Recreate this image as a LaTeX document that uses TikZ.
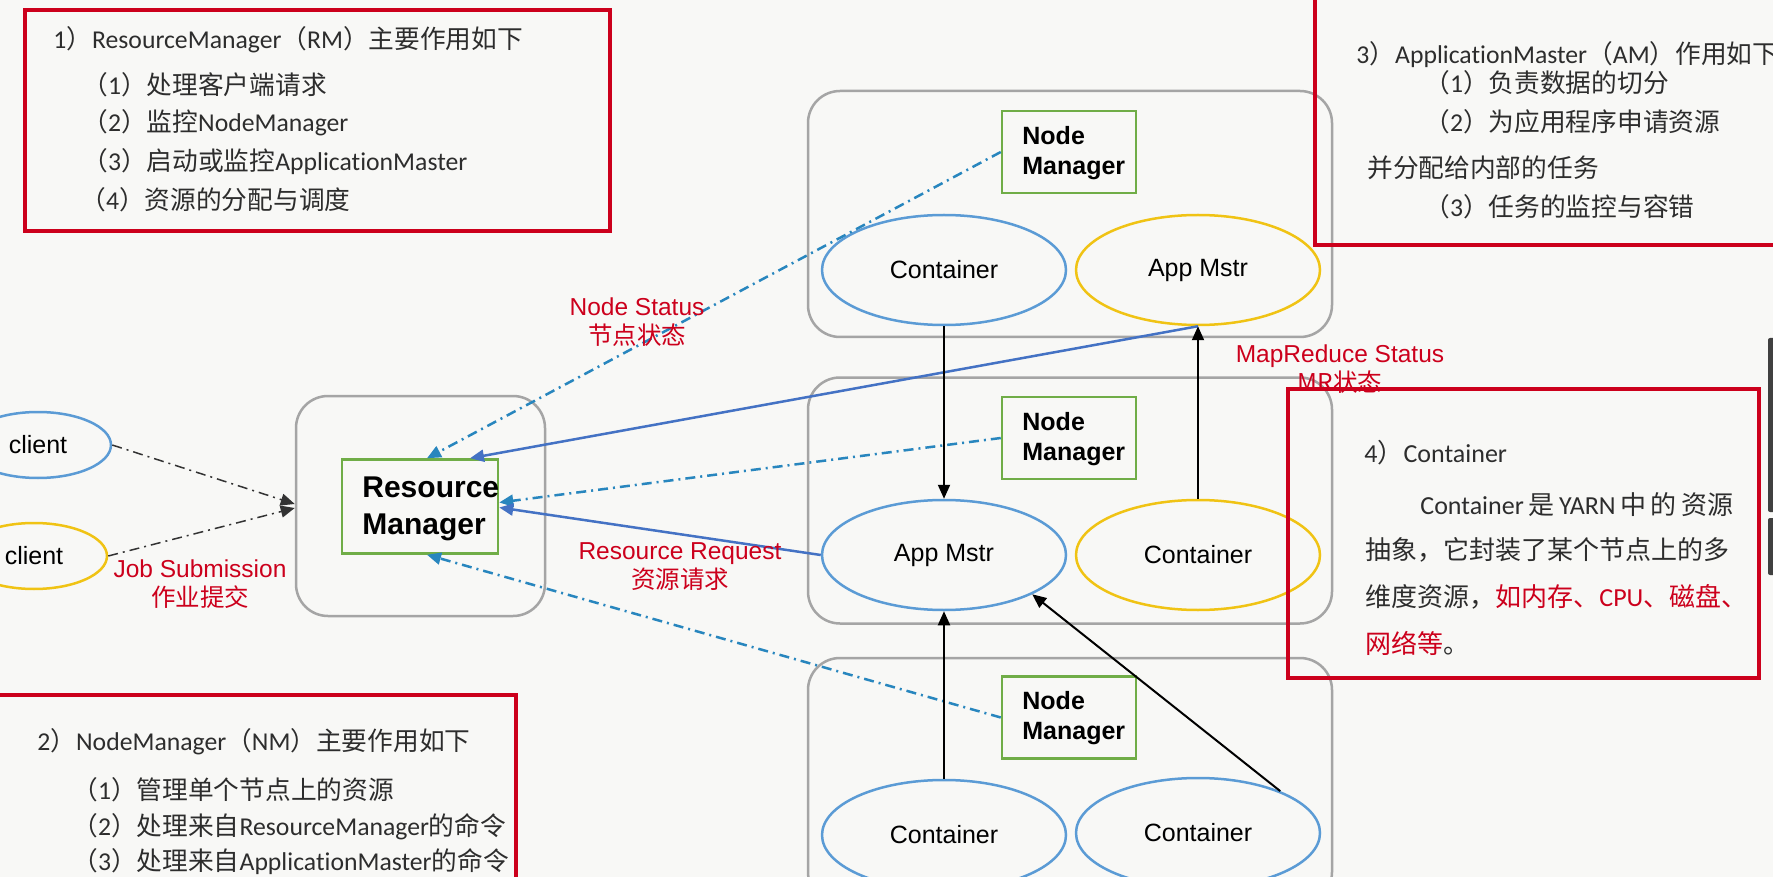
\documentclass[tikz,border=0pt]{standalone}
\usepackage{fontspec}
\setmainfont{Liberation Sans}
\newfontfamily\cjk{Noto Sans CJK SC}
\newfontfamily\calib[Ligatures=NoCommon]{Carlito}
\newcommand\zh[1]{{\cjk #1}}
\usetikzlibrary{arrows.meta,shapes.geometric}
\definecolor{cBg}{RGB}{248,248,246}
\definecolor{cRed}{RGB}{204,0,28}
\definecolor{cGray}{RGB}{165,165,165}
\definecolor{cGreen}{RGB}{112,173,71}
\definecolor{cBlueE}{RGB}{91,155,213}
\definecolor{cYellow}{RGB}{240,195,20}
\definecolor{cBlueS}{RGB}{68,114,196}
\definecolor{cBlueD}{RGB}{40,134,190}
\definecolor{cText}{RGB}{45,45,45}
\begin{document}
\begin{tikzpicture}[x=0.5pt,y=-0.5pt,
  grbox/.style={draw=cGray,line width=1.25pt,rounded corners=16pt,inner sep=0pt},
  nmg/.style={draw=cGreen,line width=1.25pt,inner sep=0pt,minimum width=67pt,minimum height=41pt},
  nmtxt/.style={anchor=west,inner sep=0pt,align=left,font=\bfseries\fontsize{12.5}{15}\selectfont},
  ell/.style={ellipse,line width=1.25pt,inner sep=0pt,minimum width=122pt,minimum height=55pt,font=\fontsize{12.5}{15}\selectfont},
  cli/.style={ellipse,line width=1.25pt,inner sep=0pt,minimum width=73pt,minimum height=33pt,font=\fontsize{12.5}{15}\selectfont},
  lbl/.style={text=cRed,align=center,inner sep=0pt,font=\fontsize{12.25}{14.5}\selectfont},
  note/.style={anchor=west,inner sep=0pt,text=cText,font=\calib\fontsize{12.85}{15}\selectfont},
  cnote/.style={anchor=west,inner sep=0pt,text=cText,font=\calib\fontsize{13}{15}\selectfont},
  redframe/.style={draw=cRed,line width=2pt},
  blk/.style={draw=black,line width=1pt,-{Triangle[length=7pt,width=6pt]}},
  bsol/.style={draw=cBlueS,line width=1.25pt,-{Triangle[length=7pt,width=6pt]}},
  bdash/.style={draw=cBlueD,line width=1.25pt,dash pattern=on 5pt off 2.5pt on 1pt off 2.5pt,-{Triangle[length=7pt,width=6pt]}},
  kdash/.style={draw=black!80,line width=0.75pt,dash pattern=on 5pt off 2.5pt on 1pt off 2.5pt,-{Triangle[length=7pt,width=6pt]}}
]
\fill[cBg] (0,0) rectangle (1773,877);
\useasboundingbox (0,0) rectangle (1773,877);

% outer boxes
\node[grbox,minimum width=124.5pt,minimum height=110pt] (rmo) at (420.5,506) {};
\node[grbox,minimum width=262pt,minimum height=123pt] (nmo1) at (1070,214) {};
\node[grbox,minimum width=262pt,minimum height=123pt] (nmo2) at (1070,500.5) {};
\node[grbox,minimum width=262pt,minimum height=123pt] (nmo3) at (1070,781) {};

% resource manager
\node[draw=cGreen,line width=1.25pt,inner sep=0pt,minimum width=78pt,minimum height=47pt] (rmi) at (420,506.5) {};
\node[anchor=west,inner sep=0pt,align=left,font=\bfseries\fontsize{15}{18.5}\selectfont] (rmt) at (362,509) {Resource\\Manager};

% node managers
\node[nmg] (nm1) at (1069,152) {};
\node[nmtxt] (nmt1) at (1022,153) {Node\\Manager};
\node[nmg] (nm2) at (1069,438) {};
\node[nmtxt] (nmt2) at (1022,439) {Node\\Manager};
\node[nmg] (nm3) at (1069,717.5) {};
\node[nmtxt] (nmt3) at (1022,718.5) {Node\\Manager};

% ellipses
\node[ell,draw=cBlueE] (ct1) at (944,270) {Container};
\node[ell,draw=cYellow] (am1) at (1198,270) {App Mstr};
\node[ell,draw=cBlueE] (am2) at (944,555) {App Mstr};
\node[ell,draw=cYellow] (ct2) at (1198,555) {Container};
\node[ell,draw=cBlueE] (ct3) at (944,835) {Container};
\node[ell,draw=cBlueE] (ct4) at (1198,833) {Container};

% clients
\node[cli,draw=cBlueE] (cl1) at (38,445) {client};
\node[cli,draw=cYellow] (cl2) at (34,556) {client};

% connectors
\draw[kdash] (cl1.east) -- ([yshift=1pt]rmo.west);
\draw[kdash] (cl2.east) -- ([yshift=-1pt]rmo.west);
\draw[bdash] (nm1.west) -- ([xshift=3.5pt]rmi.north);
\draw[bsol] (am1.south) -- ([xshift=25pt]rmi.north);
\draw[bdash] (nm2.west) -- ([yshift=2pt]rmi.east);
\draw[bsol] (am2.west) -- ([yshift=-0.5pt]rmi.east);
\draw[bdash] (nm3.west) -- ([xshift=3.5pt]rmi.south);
\draw[blk] (ct1.south) -- (am2.north);
\draw[blk] (ct2.north) -- (am1.south);
\draw[blk] (ct3.north) -- (am2.south);
\draw[blk] (ct4.27) -- (am2.-24);

% labels
\node[lbl] (lns) at (637,322) {Node Status\\\zh{节点状态}};
\node[lbl] (lrr) at (680,567) {Resource Request\\\zh{资源请求}};
\node[lbl] (ljs) at (200,584) {Job Submission\\\zh{作业提交}};
\node[lbl] (lmr) at (1340,369) {MapReduce Status\\\zh{MR状态}};

% RM notes
\node[note] (rm0) at (53,40) {1\zh{）}ResourceManager\zh{（}RM\zh{）主要作用如下}};
\node[note] (rm1) at (82,85) {\zh{（}1\zh{）处理客户端请求}};
\node[note] (rm2) at (82,123) {\zh{（}2\zh{）监控}NodeManager};
\node[note] (rm3) at (82,162) {\zh{（}3\zh{）启动或监控}ApplicationMaster};
\node[note] (rm4) at (80,200) {\zh{（}4\zh{）资源的分配与调度}};

% AM notes
\node[note] (am0) at (1356,55) {3\zh{）}ApplicationMaster\zh{（}AM\zh{）作用如下}};
\node[note] (am1t) at (1424,83) {\zh{（}1\zh{）负责数据的切分}};
\node[note] (am2t) at (1424,122) {\zh{（}2\zh{）为应用程序申请资源}};
\node[note] (am3t) at (1367,168) {\zh{并分配给内部的任务}};
\node[note] (am4t) at (1424,207) {\zh{（}3\zh{）任务的监控与容错}};

% NM notes
\node[note] (nmn0) at (37,742) {2\zh{）}NodeManager\zh{（}NM\zh{）主要作用如下}};
\node[note] (nmn1) at (72,790) {\zh{（}1\zh{）管理单个节点上的资源}};
\node[note] (nmn2) at (72,827) {\zh{（}2\zh{）处理来自}ResourceManager\zh{的命令}};
\node[note] (nmn3) at (72,862) {\zh{（}3\zh{）处理来自}ApplicationMaster\zh{的命令}};

% Container notes
\node[cnote] (cn0) at (1364,453) {4\zh{）}Container};
\node[cnote] (cn1) at (1420,505) {\makebox[156.5pt][s]{Container\hfil\zh{是}\hfil YARN\hfil\zh{中}\hfil\zh{的}\hfil\zh{资源}}};
\node[cnote] (cn2) at (1365,550) {\zh{抽象，它封装了某个节点上的多}};
\node[cnote] (cn3) at (1365,597) {\zh{维度资源，}\textcolor{cRed}{\zh{如内存、}CPU\zh{、磁盘、}}};
\node[cnote] (cn4) at (1365,643) {\textcolor{cRed}{\zh{网络等}}\zh{。}};

% red frames
\draw[redframe] (25,10) rectangle (610,231);
\draw[redframe] (1315,-10) rectangle (1790,245);
\draw[redframe] (1288,389) rectangle (1759,678);
\draw[redframe] (-10,695) rectangle (516,890);

% right-edge bars
\fill[black!75,rounded corners=1pt] (1768,338) rectangle (1776,512);
\fill[black!75,rounded corners=1pt] (1768,518) rectangle (1776,575);
\end{tikzpicture}
\end{document}
